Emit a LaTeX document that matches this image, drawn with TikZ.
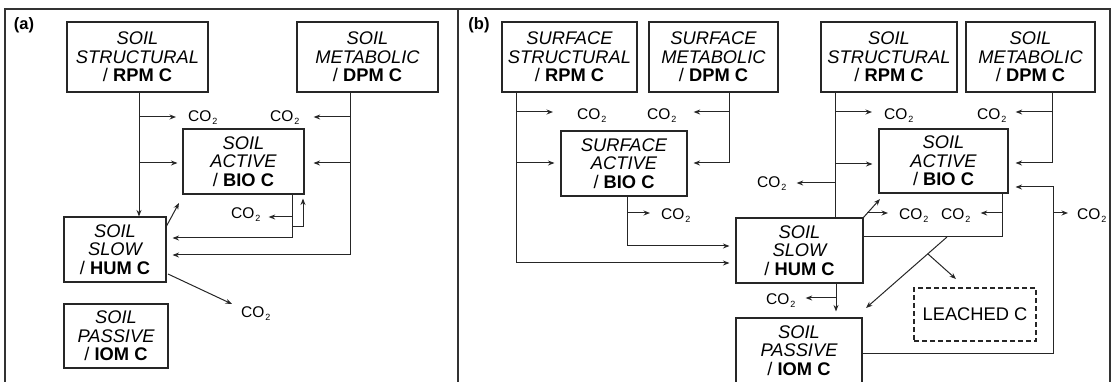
\documentclass[tikz,border=0pt]{standalone}
\usepackage{fontspec}
\setmainfont{Liberation Sans}
\usetikzlibrary{arrows.meta}
\newcommand{\cotwo}{CO\kern1pt\raisebox{-3pt}{\fontsize{9}{9}\selectfont 2}}
\begin{document}
\begin{tikzpicture}[x=1pt,y=-1pt,
  ln/.style={draw=black!85, line width=1pt},
  arr/.style={ln, -{Stealth[length=6.5pt,width=5pt]}},
  box/.style={draw=black!85, line width=1.1pt, inner sep=0pt, align=center, font=\fontsize{18.3}{18.5}\selectfont\itshape},
  gas/.style={inner sep=0pt, font=\fontsize{15.5}{16}\selectfont, anchor=base west},
  frame/.style={draw=black!80, line width=1.3pt},
  tag/.style={font=\fontsize{16.5}{16.5}\selectfont\bfseries}]
\useasboundingbox (0,0) rectangle (1112,382);
% frames
\draw[frame] (5,390) -- (5,9) -- (1110,9) -- (1110,390);
\draw[frame] (458,9) -- (458,390);
\node[tag] (tagA) at (24,25) {(a)};
\node[tag] (tagB) at (479,25) {(b)};
% ---------------- panel (a) ----------------
\node[box, minimum width=141pt, minimum height=70pt] (aStr) at (137.5,57) {SOIL\\STRUCTURAL\\\upshape/ \textbf{RPM C}};
\node[box, minimum width=141pt, minimum height=70pt] (aMet) at (367.5,57) {SOIL\\METABOLIC\\\upshape/ \textbf{DPM C}};
\node[box, minimum width=121pt, minimum height=65pt] (aAct) at (243.5,161.5) {SOIL\\ACTIVE\\\upshape/ \textbf{BIO C}};
\node[box, minimum width=102pt, minimum height=65pt] (aSlow) at (115,249.5) {SOIL\\SLOW\\\upshape/ \textbf{HUM C}};
\node[box, minimum width=104pt, minimum height=64pt] (aPas) at (116,336) {SOIL\\PASSIVE\\\upshape/ \textbf{IOM C}};
\node[gas] (ac1) at (188,122) {\cotwo};
\node[gas] (ac2) at (270,122) {\cotwo};
\node[gas] (ac3) at (231,219) {\cotwo};
\node[gas] (ac4) at (241,318) {\cotwo};
\coordinate (aj1) at (139,117);
\coordinate (aj2) at (139,163);
\draw[arr] (aStr.south -| aj1) -- (aj1 |- aSlow.north);
\draw[arr, shorten >=12pt] (aj1) -- (aj1 -| ac1.west);
\draw[arr, shorten >=5pt] (aj2) -- (aj2 -| aAct.west);
\coordinate (aj3) at (350,117);
\coordinate (aj4) at (350,163);
\coordinate (ak1) at (350,255);
\draw[arr, shorten >=6pt] (aMet.south -| ak1) -- (ak1) -- (ak1 -| aSlow.east);
\draw[arr, shorten >=14pt] (aj3) -- (aj3 -| ac2.east);
\draw[arr, shorten >=9pt] (aj4) -- (aj4 -| aAct.east);
\coordinate (ak2) at (292,238);
\coordinate (aj5) at (292,217);
\coordinate (aj6) at (292,227);
\coordinate (ak3) at (303,227);
\draw[arr, shorten >=6pt] (aAct.south -| ak2) -- (ak2) -- (ak2 -| aSlow.east);
\draw[arr, shorten >=8pt] (aj5) -- (aj5 -| ac3.east);
\draw[arr, shorten >=4pt] (aj6) -- (ak3) -- (ak3 |- aAct.south);
\coordinate (ad1) at (166,227);
\coordinate (ad2) at (179,203);
\draw[arr] (ad1) -- (ad2);
\coordinate (ad3) at (168,274);
\coordinate (ad4) at (232,304);
\draw[arr] (ad3) -- (ad4);
% ---------------- panel (b) ----------------
\node[box, minimum width=135pt, minimum height=70pt] (bSStr) at (569.5,57) {SURFACE\\STRUCTURAL\\\upshape/ \textbf{RPM C}};
\node[box, minimum width=129pt, minimum height=70pt] (bSMet) at (713.5,57) {SURFACE\\METABOLIC\\\upshape/ \textbf{DPM C}};
\node[box, minimum width=126pt, minimum height=65pt] (bSAct) at (624,163.5) {SURFACE\\ACTIVE\\\upshape/ \textbf{BIO C}};
\node[box, minimum width=136pt, minimum height=70pt] (bStr) at (889,57) {SOIL\\STRUCTURAL\\\upshape/ \textbf{RPM C}};
\node[box, minimum width=129pt, minimum height=70pt] (bMet) at (1030.5,57) {SOIL\\METABOLIC\\\upshape/ \textbf{DPM C}};
\node[box, minimum width=129pt, minimum height=64pt] (bAct) at (943.5,161) {SOIL\\ACTIVE\\\upshape/ \textbf{BIO C}};
\node[box, minimum width=127pt, minimum height=65pt] (bSlow) at (799.5,250.5) {SOIL\\SLOW\\\upshape/ \textbf{HUM C}};
\node[box, minimum width=126pt, minimum height=65pt] (bPas) at (799,350.5) {SOIL\\PASSIVE\\\upshape/ \textbf{IOM C}};
\node[box, dashed, dash pattern=on 5pt off 3pt, font=\fontsize{18.3}{18.5}\selectfont, minimum width=122pt, minimum height=53pt] (bLea) at (975,314.5) {LEACHED C};
\node[gas] (bc1) at (577,120) {\cotwo};
\node[gas] (bc2) at (647,120) {\cotwo};
\node[gas] (bc3) at (661,220) {\cotwo};
\node[gas] (bc4) at (884,120) {\cotwo};
\node[gas] (bc5) at (757,188) {\cotwo};
\node[gas] (bc6) at (977,120) {\cotwo};
\node[gas] (bc7) at (941,220) {\cotwo};
\node[gas] (bc8) at (899,220) {\cotwo};
\node[gas] (bc9) at (1077,220) {\cotwo};
\node[gas] (bc10) at (766,305) {\cotwo};
% surface structural
\coordinate (bk1) at (516,263);
\coordinate (bj1) at (516,112);
\coordinate (bj2) at (516,163);
\draw[arr, shorten >=6pt] (bSStr.south -| bk1) -- (bk1) -- (bk1 -| bSlow.west);
\draw[arr, shorten >=24pt] (bj1) -- (bj1 -| bc1.west);
\draw[arr, shorten >=6pt] (bj2) -- (bj2 -| bSAct.west);
% surface metabolic
\coordinate (bk2) at (729,163);
\coordinate (bj3) at (729,112);
\draw[arr, shorten >=6pt] (bSMet.south -| bk2) -- (bk2) -- (bk2 -| bSAct.east);
\draw[arr, shorten >=17pt] (bj3) -- (bj3 -| bc2.east);
% surface active
\coordinate (bk3) at (627,246);
\coordinate (bj4) at (627,213);
\draw[arr, shorten >=6pt] (bSAct.south -| bk3) -- (bk3) -- (bk3 -| bSlow.west);
\draw[arr, shorten >=11pt] (bj4) -- (bj4 -| bc3.west);
% soil structural
\coordinate (bj5) at (835,112);
\coordinate (bj6) at (835,164);
\coordinate (bj7) at (835,183);
\draw[ln] (bStr.south -| bj5) -- (bj5 |- bSlow.north);
\draw[arr, shorten >=12pt] (bj5) -- (bj5 -| bc4.west);
\draw[arr, shorten >=6pt] (bj6) -- (bj6 -| bAct.west);
\draw[arr, shorten >=10pt] (bj7) -- (bj7 -| bc5.east);
% soil metabolic
\coordinate (bk4) at (1052,163);
\coordinate (bj8) at (1052,112);
\draw[arr, shorten >=7pt] (bMet.south -| bk4) -- (bk4) -- (bk4 -| bAct.east);
\draw[arr, shorten >=9pt] (bj8) -- (bj8 -| bc6.east);
% soil active
\coordinate (bk5) at (1002,237);
\coordinate (bj9) at (1002,213);
\draw[ln] (bAct.south -| bk5) -- (bk5) -- (bk5 -| bSlow.east);
\draw[arr, shorten >=10pt] (bj9) -- (bj9 -| bc7.east);
\coordinate (bd1) at (947,237);
\coordinate (bd2) at (866,308);
\coordinate (bd3) at (928,254);
\coordinate (bd4) at (956,279);
\draw[arr] (bd1) -- (bd2);
\draw[arr] (bd3) -- (bd4);
% soil slow
\coordinate (bd5) at (863,218);
\coordinate (bd6) at (880,199);
\coordinate (bj10) at (867,213);
\draw[arr] (bd5) -- (bd6);
\draw[arr, shorten >=11pt] (bj10) -- (bj10 -| bc8.west);
\coordinate (bj11) at (836,298);
\draw[arr, shorten >=6pt] (bSlow.south -| bj11) -- (bj11 |- bPas.north);
\draw[arr, shorten >=10pt] (bj11) -- (bj11 -| bc10.east);
% soil passive
\coordinate (bk6) at (1053,353);
\coordinate (bk7) at (1053,187);
\coordinate (bj12) at (1053,213);
\draw[arr, shorten >=7pt] (bk6 -| bPas.east) -- (bk6) -- (bk7) -- (bk7 -| bAct.east);
\draw[arr, shorten >=9pt] (bj12) -- (bj12 -| bc9.west);
\end{tikzpicture}
\end{document}
